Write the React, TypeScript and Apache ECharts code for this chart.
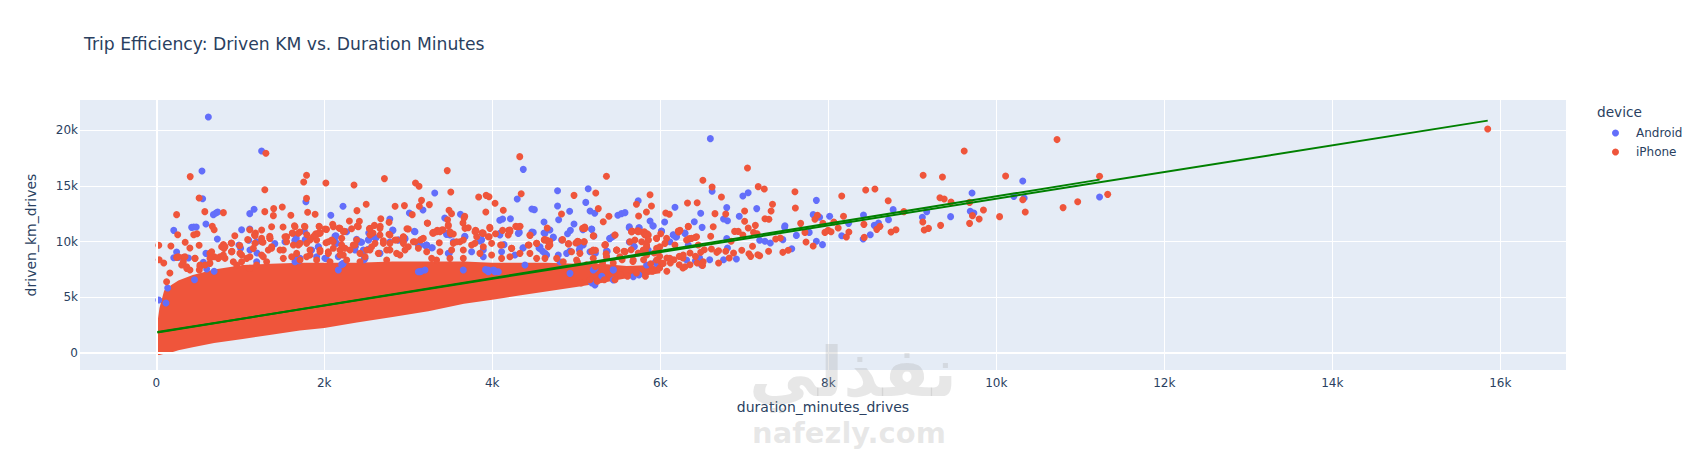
import React, { useEffect, useRef } from "react";
import * as echarts from "echarts";

const chartTitle = "Trip Efficiency: Driven KM vs. Duration Minutes";
const xTickValues = [0, 2000, 4000, 6000, 8000, 10000, 12000, 14000, 16000];
const yTickValues = [0, 5000, 10000, 15000, 20000];

// Individually legible Android markers.
const androidPoints = [
[620,21170],[1254,18120],[544,16325],[552,13840],[3315,14350],[4369,16470],[4297,13810],[2223,13160],[1781,13570],[1164,12890],[1113,12500],[680,12410],[710,12560],[731,12650],[2078,12350],[3175,12830],[3013,12560],[3434,12110],[2780,12020],[3621,12440],[4501,12860],[4471,12920],[4089,11900],[4123,12020],[4216,12050],[4616,11750],[4777,14560],[4777,13190],[4790,11960],[591,11570],[421,11270],[446,11300],[476,11300],[208,11000],[1016,11060],[1113,11120],[1764,10910],[1666,10320],[2818,11000],[3073,10910],[727,10230],[4322,10820],[4471,10850],[4616,10760],[4726,10400],[30,4750],[208,8550],[242,9060],[591,8940],[561,8130],[1199,8970],[1101,10110],[1411,9810],[1649,10080],[1772,10170],[2431,9960],[2367,9570],[2121,10170],[2529,10760],[2529,10170],[2605,10320],[2780,9960],[3205,9630],[3672,10470],[3868,10170],[4140,9720],[4365,9420],[4556,9420],[4599,9120],[1666,8370],[1700,8280],[2219,7980],[2474,8370],[2656,8940],[3154,7330],[3919,7480],[4025,7390],[455,6580],[136,5830],[115,4490],[689,7330],[383,8520],
[6596,19225],[5142,14740],[6617,14500],[6983,14080],[7046,14380],[5737,13660],[7858,13690],[6175,13070],[6791,13040],[7148,12950],[5113,13510],[4921,12710],[5164,12740],[5219,12530],[5495,12350],[5538,12500],[5580,12590],[6481,12530],[6940,12260],[6753,12020],[6800,11870],[6405,11780],[6498,11270],[6052,11750],[5878,11840],[5912,11420],[5631,11330],[5746,11240],[4973,11570],[5185,11090],[4930,11000],[4896,10700],[5079,11060],[7484,11420],[7480,11270],[7820,12410],[7897,12170],[8016,12260],[8419,12380],[8772,12860],[9172,12680],[9120,12170],[9456,12230],[9690,12710],[9733,12560],[9711,14350],[10315,15430],[10209,14050],[10332,13900],[8717,11960],[8598,11660],[8547,11450],[8241,11630],[8500,10610],[8415,10230],[8160,10520],[7931,9720],[7858,10020],[7773,10820],[7620,10550],[7565,9360],[7459,10170],[7310,9870],[7246,10020],[7183,10110],[6906,8430],[6753,8370],[6588,8370],[6469,8520],[6418,8280],[6800,9420],[6791,10260],[6294,10760],[6154,10610],[6184,10400],[6014,10910],[5687,9570],[5631,9960],[5398,10260],[5368,9120],[5228,8970],[5058,9660],[5036,9270],[5440,7480],[5304,6880],[5746,7000],[5185,6280],[5942,8160],[11229,13990],
[2385,10196],[2445,9927],[2266,10883],[2139,10525],[1532,9986],[1004,9388],[984,9687],[1195,8192],[1115,9239],[262,8581],[600,7535],[1671,8342],[1711,8492],[1671,8790],[1850,9239],[1929,9538],[1909,8641],[2365,9478],[2365,9239],[2524,9299],[2663,8940],[2465,8790],[2147,9837],[2226,8043],[2167,7445],[2008,8492],[1651,8192],[2881,10136],[2960,10196],[1195,9986],
[2961,10285],[3457,10734],[3496,10584],[3675,10435],[3873,10136],[4091,10734],[3218,9688],[3286,9448],[3139,9688],[3488,8940],[3754,9090],[3893,9239],[4270,8790],[4568,9538],[4647,8790],[4806,8192],[4885,8940],[4925,9149],[5083,9688],[5163,9090],[5361,8641],[3139,7295],[3199,7445],[4012,7445],[3953,7295],[4072,7295],[4389,7893],[4925,7146],[5202,7445],[5222,6100],[5679,6847],[5441,6548],
[1663,10225],[1671,8490],[2425,9985],[2366,9535],[2544,10730],[2524,10135],[2616,10345],[2814,11030],[2882,10135],[3080,10880],[2128,10495],[1929,9535],[2465,9240],[2167,8640],[2021,8490],[3120,9685],[3219,9685],[2207,7950],[2485,8490],[3120,7295],
[3456,10640],[3536,9985],[3278,9445],[3853,10045],[3893,8640],[4091,10585],[4310,10730],[4488,10820],[4627,10730],[4686,11030],[4726,10345],[4825,10135],[4369,9445],[4111,9090],[4567,9385],[4627,8940],[4786,8790],[3476,8940],[3952,7445],[4032,7295],[3655,7445],
[5182,11120],[5210,10495],[5043,9535],[5400,10285],[5432,10435],[5630,11240],[5749,11240],[5916,11390],[6015,10940],[6154,10585],[6194,10435],[6293,10730],[5690,9535],[5856,9240],[5360,9150],[6114,9985],[6333,9685],[6313,8340],[6432,8250],[5956,8040],[5222,7590],[5440,7445],[5837,7890],[6491,7890],
];

// Individually legible iPhone markers.
const iphonePoints = [
[30,9660],[34,8370],[89,8070],[162,7180],[404,15820],[1305,17910],[1789,15940],[1755,15340],[2019,15250],[1292,14650],[510,13900],[1789,13870],[1802,12620],[578,12680],[242,12410],[799,12590],[1292,12680],[1398,12950],[1500,13100],[1394,12320],[1602,12350],[1891,12440],[2354,15070],[2716,15640],[3086,15250],[3128,14950],[3158,13690],[3132,13160],[3251,13310],[2499,13340],[2389,12770],[2843,13160],[2954,13220],[3047,12410],[3464,16360],[3506,14440],[3485,12800],[3515,12500],[3838,13990],[3927,14140],[3961,14020],[4033,13430],[3923,12650],[4131,12800],[4327,17610],[4344,14290],[3672,12260],[3651,11660],[3226,11660],[3664,12110],[3468,11960],[2673,12050],[2299,11840],[2418,11810],[2597,11450],[2537,11150],[2665,11360],[2771,11720],[2100,11540],[1938,11360],[2027,11090],[1764,11360],[1645,11420],[1509,11300],[1373,11330],[1254,11030],[1113,11060],[1181,10760],[935,10520],[667,11360],[689,11060],[485,10700],[446,10610],[255,10610],[344,9930],[510,9660],[400,9420],[174,9600],[799,9720],[892,9870],[901,9120],[994,9630],[1088,10170],[1169,10610],[1271,9930],[1351,10470],[1547,10400],[1619,10760],[1708,10850],[1793,10610],[1900,10700],[1951,10760],[2176,11210],[2240,10910],[2325,11150],[2580,10760],[2941,10400],[2984,11150],[3145,10140],[3290,10760],[3345,11000],[3413,11060],[3502,10700],[3800,11000],[3876,10760],[3970,11270],[4038,10700],[4123,11000],[4195,11000],[4280,11360],[4331,11360],[4654,11210],[4450,10550],[4620,10170],[4684,10020],
[10723,19140],[9618,18120],[7038,16600],[5359,15850],[9129,15940],[9359,15790],[10111,15880],[11229,15850],[6507,15490],[6617,14890],[7166,14920],[7238,14710],[7603,14470],[5232,14350],[4973,14140],[5878,14200],[6728,13990],[8445,14620],[8555,14710],[8160,14080],[8713,13660],[9329,13930],[9380,13810],[9461,13540],[9682,13510],[10315,13750],[11326,14230],[10969,13570],[10795,13040],[6324,13450],[6439,13480],[5716,13340],[5895,13190],[5262,12950],[7336,13340],[7608,13010],[7004,12740],[7319,12740],[5835,12650],[6065,12560],[6107,12440],[6651,12500],[6779,12470],[5389,12260],[5321,11780],[5742,12290],[4824,12470],[7246,12050],[7293,11990],[7004,11810],[7132,11450],[7047,11210],[6630,11330],[6235,11000],[6218,10850],[5100,11300],[5665,10940],[5725,10940],[5793,10820],[5844,10700],[6005,10700],[5206,10520],[5461,10580],[5347,9720],[6333,11360],[6418,10370],[6345,10260],[6600,10470],[6885,10910],[6928,10910],[6983,10580],[7110,10820],[7153,10700],[7374,10230],[7429,10320],[7671,11630],[7722,10820],[7735,9960],[7820,9600],[7841,11990],[7871,12350],[7935,11630],[7960,10820],[7998,11000],[8033,10880],[8066,11750],[8118,11210],[8181,12260],[8245,10850],[8215,10400],[8424,11540],[8428,10370],[8577,11090],[8615,11360],[8747,10850],[8806,11060],[8900,12680],[9125,11750],[9142,11030],[9193,11180],[9337,11450],[9682,11630],[9716,12320],[9796,12020],[9847,12830],[10039,12230],[10345,12650],[15850,20090],
[6673,9030],[6779,9120],[6872,8970],[6970,9210],[7098,9570],[7055,8910],[7183,8730],[7289,9120],[7459,9030],[7523,9210],[6843,10020],[6694,9180],[6609,9330],[6524,9270],[6481,9030],[6418,8670],[6354,8970],[6269,8520],[6226,8670],[6163,8370],[6078,8520],[5993,8670],[5929,8970],[5823,9120],[5738,8970],[5653,9270],[5568,9120],[5483,9210],[5355,8910],[5228,9210],[5185,9120],[4994,9870],[5015,10020],[4909,9810],[4837,10170],
[6503,7860],[6269,7620],[6078,7330],[5993,7620],[5908,7330],[5823,6880],[5716,7180],[5610,6880],[5525,7030],[5461,6580],[5334,6580],[5249,6430],[5164,6580],[5058,6280],[5440,8070],[5313,8070],[5228,7770],[5121,7920],[5015,8130],[5546,8370],[5674,8220],[5801,8370],[5886,8010],[6014,8070],[6120,8070],[6226,7920],[6354,7920],[6439,8070],[6694,8070],[6821,8520],[7076,8670],[7161,8820],
[2393,11392],[2770,10644],[2703,10076],[2842,10136],[1175,10525],[778,9538],[806,9388],
[461,8492],[242,8581],[322,8581],[302,7893],[362,7595],[123,6398],[512,7445],[639,8940],[691,8641],[758,8641],[897,9090],[1016,8790],[1155,9388],[1254,9986],[1353,10285],[1373,9538],[1552,10435],[1623,10734],[1691,10734],[1869,10435],[1949,10734],[1909,10136],[1790,9837],[1691,9688],[2020,9897],[2107,9986],[2207,10285],[2345,9688],[2306,9239],[2187,9239],[2048,9090],[1949,9090],[1830,8790],[1512,9239],[1334,9239],[1274,8641],[1115,8641],[917,8192],[818,8492],[639,8043],[520,7893],[2703,9837],[2782,9239],[2941,9986],[3000,9538],[2861,8940],[2544,9239],[2425,8940],[2226,8790],
[3230,11631],[3298,10734],[3397,11033],[3337,10884],[3536,10674],[3476,11481],[3714,11242],[3675,11182],[3806,10973],[3885,10794],[3814,10435],[3964,10435],[4210,10883],[5202,10495],[5075,11182],[5659,10883],[5738,10973],[5810,10883],[5857,10584],[5956,10285],
[2941,10435],[3060,9986],[3159,10196],[3369,9897],[3536,9837],[3615,9986],[3794,9837],[3992,9837],[4099,9688],[4230,9388],[4437,9688],[4528,9837],[4619,10136],[4667,9986],[4667,9538],[4833,10136],[4905,9777],[5024,9986],[5095,9986],[5341,9688],[5480,9239],[5580,9090],[5778,9986],[5857,10136],[5837,9538],[5956,9388],
[262,8640],[342,8640],[322,8190],[362,7740],[461,8490],[401,7440],[520,7740],[580,7890],[659,9090],[639,8490],[738,8490],[818,9540],[798,8790],[897,9090],[897,9840],[996,8940],[1076,8490],[1016,8190],[1175,9840],[1254,8790],[1254,10280],[1353,10280],[1373,9390],[1532,10430],[1552,9985],[1473,9240],[1512,8490],[1314,8190],[1195,7890],[1115,7590],[957,7890],
[1632,9690],[1711,9835],[1671,8940],[1790,8640],[1830,10135],[1890,10585],[1929,10730],[1830,9240],[1949,9240],[2048,9985],[2088,10135],[2108,9390],[2048,8940],[2207,9690],[2247,9390],[2187,8790],[2386,10135],[2366,9690],[2505,9240],[2564,9535],[2604,9835],[2485,8640],[2644,8940],[2743,9240],[2782,9835],[2862,10135],[2941,9835],[2961,9240],[3080,9985],[3179,10285],[3120,9390],[3219,9090],[2901,8790],[2743,8340],[2425,8190],[2267,8340],[2068,8190],[1909,8340],[1711,8340],[1612,8640],[2187,11180],[2227,10880],[2405,11330],[2108,11330],[2009,11120],[1652,11330],[1770,11330],[1941,11330],[2544,11180],[2544,10585],[2663,11180],[2663,10585],[2782,10585],[3001,11120],[2941,10285],
[3298,10820],[3377,10880],[3476,11390],[3496,10880],[3516,9240],[3575,9985],[3655,10135],[3655,9240],[3754,9685],[3794,10880],[3893,10730],[3972,11180],[3952,10435],[3893,9535],[3853,8940],[4111,9685],[4190,10585],[4210,11030],[4310,11330],[4448,10585],[4428,9685],[4528,9835],[4647,10135],[4686,9685],[4230,9390],[4329,8940],[4448,8940],[4111,8490],[3992,8790],[3655,8490],[3496,8490],[3377,9090],[3337,8340],[3278,8490],[4528,8490],[4627,8490],[4766,8490],[4845,8190],[4210,8640],
[5103,11180],[5023,9985],[5091,9985],[4944,9090],[5043,8940],[5202,9240],[5341,9685],[5460,10585],[5360,8640],[5480,9240],[5579,9090],[5638,9985],[5698,10135],[5658,10880],[5737,10880],[5817,10585],[5856,10135],[5837,9685],[5797,9240],[5956,10285],[6075,10285],[6055,9835],[6214,10940],[6174,9685],[5995,9535],[6333,11330],[6313,10135],[6372,10285],[6432,10435],[6452,9685],[6511,8190],[6273,8790],[6114,8490],[5956,8340],[5678,8340],[5519,8640],[5202,8490],[5003,8340],[5837,8790],[6293,7740],[6035,8040],
];

// Where iPhone markers merge into a solid mass no single value can be read:
// the mass is drawn from its envelope.
const denseX = [13,38,94,179,263,434,689,1029,1369,1708,2000,2388,2813,3238,3663,4000,4301,4641,5000,5300,5600,5900,6000];
const denseLow = [-180,-180,-60,60,240,510,900,1260,1650,2030,2240,2750,3230,3740,4430,4790,5140,5530,5920,6280,6700,7050,7150];
const denseHigh = [2690,4040,5600,6100,6500,7000,7500,7900,8000,8100,8100,8100,8200,8200,8200,8100,8100,8100,8000,8000,7800,7900,7600];

const androidTrend = [[13,1850],[11229,15550]];
const iphoneTrend = [[13,1880],[15850,20840]];

const fmt = (v: number) => (v === 0 ? "0" : v / 1000 + "k");
const ink = "#2a3f5f";
const font = "DejaVu Sans";

export default function App() {
  const ref = useRef<HTMLDivElement>(null);
  useEffect(() => {
    document.body.style.margin = "0";
    const chart = echarts.init(ref.current!, null, { renderer: "svg" });
    const denseData = denseX.map((x, i) => [x, denseLow[i], denseHigh[i]]);
    chart.setOption({
      animation: false,
      backgroundColor: "#fff",
      textStyle: { fontFamily: font },
      title: {
        text: chartTitle, left: 79, top: 30,
        textStyle: { fontFamily: font, fontWeight: "normal", fontSize: 17.2, color: ink },
      },
      grid: { left: 80, right: 135, top: 100, bottom: 80, show: true, backgroundColor: "#E5ECF6", borderWidth: 0 },
      xAxis: {
        type: "value", min: -908, max: 16782,
        name: "duration_minutes_drives", nameLocation: "middle", nameGap: 30,
        nameTextStyle: { color: ink, fontSize: 14, fontFamily: font },
        axisLine: { show: false },
        axisTick: { show: false, customValues: xTickValues },
        axisLabel: { color: ink, fontSize: 12, margin: 7, customValues: xTickValues, formatter: fmt, fontFamily: font },
        splitLine: { show: true, lineStyle: { color: "#fff", width: 1 } },
      },
      yAxis: {
        type: "value", min: -1520, max: 22690,
        name: "driven_km_drives", nameLocation: "middle", nameGap: 42,
        nameTextStyle: { color: ink, fontSize: 14, fontFamily: font },
        axisLine: { show: false },
        axisTick: { show: false, customValues: yTickValues },
        axisLabel: { color: ink, fontSize: 12, margin: 2, customValues: yTickValues, formatter: fmt, fontFamily: font },
        splitLine: { show: true, lineStyle: { color: "#fff", width: 1 } },
      },
      legend: {
        data: ["Android", "iPhone"], orient: "vertical", left: 1612, top: 127, itemGap: 7, padding: 0,
        itemWidth: 7, itemHeight: 7, icon: "circle",
        textStyle: { color: ink, fontSize: 12, fontFamily: font, padding: [0, 0, 0, 12] },
      },
      graphic: [
        { type: "text", left: 1597, top: 105, silent: true, style: { text: "device", fill: ink, font: `13.7px "${font}"` } },
        { type: "text", left: 749, top: 338, silent: true, z: 100, style: { text: "نفذلي", fill: "rgba(170,170,170,0.28)", font: `bold 68px "${font}"` } },
        { type: "text", left: 752, top: 418, silent: true, z: 100, style: { text: "nafezly.com", fill: "rgba(170,170,170,0.28)", font: `bold 29px "${font}"` } },
      ],
      series: [
        {
          type: "line", name: "zero lines", data: [], silent: true, z: 1,
          markLine: {
            silent: true, symbol: "none", label: { show: false },
            lineStyle: { color: "#fff", width: 2, type: "solid" },
            data: [{ xAxis: 0 }, { yAxis: 0 }],
          },
        },
        {
          type: "custom", name: "iPhone mass", data: denseData, z: 2, silent: true,
          encode: { x: 0, y: [1, 2] },
          renderItem: (params: any, api: any) => {
            if (params.dataIndex !== 0) return null;
            const top = denseData.map((d) => api.coord([d[0], d[2]]));
            const bot = denseData.map((d) => api.coord([d[0], d[1]])).reverse();
            return { type: "polygon", shape: { points: top.concat(bot) }, style: { fill: "#EF553B" } };
          },
        },
        { type: "scatter", name: "Android", data: androidPoints, symbolSize: 7, itemStyle: { color: "#636EFA", opacity: 1 }, z: 3 },
        { type: "scatter", name: "iPhone", data: iphonePoints, symbolSize: 7, itemStyle: { color: "#EF553B", opacity: 1 }, z: 4 },
        { type: "line", name: "Android trend", data: androidTrend, showSymbol: false, lineStyle: { color: "#008000", width: 2 }, z: 5, silent: true },
        { type: "line", name: "iPhone trend", data: iphoneTrend, showSymbol: false, lineStyle: { color: "#008000", width: 2 }, z: 5, silent: true },
      ],
    });
    return () => chart.dispose();
  }, []);
  return <div ref={ref} style={{ position: "absolute", left: 0, top: 0, width: 1701, height: 450 }} />;
}
